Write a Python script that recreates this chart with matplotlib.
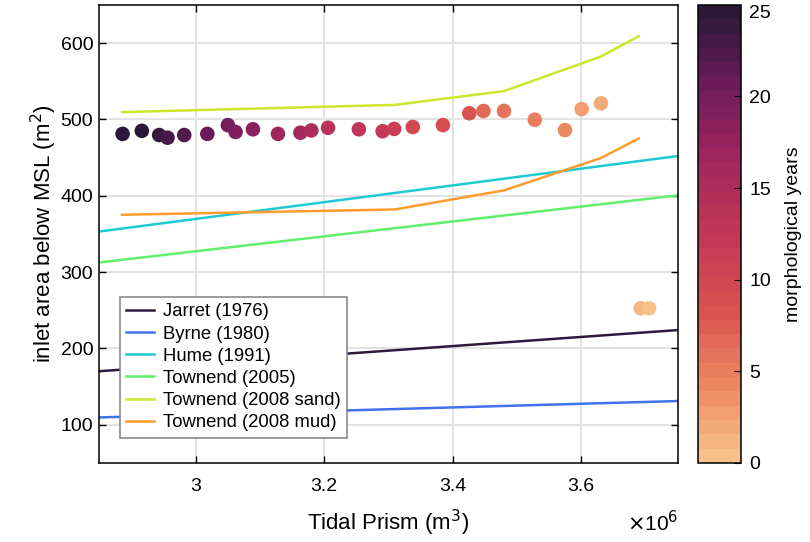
import numpy as np
import matplotlib
matplotlib.use("Agg")
import matplotlib.pyplot as plt
from matplotlib.colors import LinearSegmentedColormap, Normalize

plt.rcParams['font.family'] = ['Liberation Sans', 'DejaVu Sans']

# Empirical relations (tidal prism in 1e6 m3, area in m2)
jarret_x = [2.849, 3.751]
jarret_y = [170, 224]
byrne_x = [2.849, 3.751]
byrne_y = [109.5, 131]
hume_x = [2.849, 3.751]
hume_y = [353, 452]
townend05_x = [2.849, 3.751]
townend05_y = [312.5, 400.5]
sand_x = [2.885, 3.31, 3.48, 3.63, 3.69]
sand_y = [509.5, 519, 537, 582, 609]
mud_x = [2.885, 3.31, 3.48, 3.63, 3.69]
mud_y = [375, 382, 407, 449, 475]

# Model results
prism = [2.886, 2.916, 2.943, 2.956, 2.982, 3.018, 3.050, 3.062, 3.089,
         3.128, 3.163, 3.180, 3.206, 3.254, 3.291, 3.309, 3.338, 3.385,
         3.426, 3.448, 3.480, 3.528, 3.575, 3.601, 3.631, 3.693, 3.706]
area = [481, 485, 479.5, 476, 479.5, 481, 492.5, 483.5, 487, 481, 482.5,
        485.5, 489, 487, 484.5, 487.5, 490, 492.5, 508, 511, 511, 499.5,
        486, 513.5, 521, 252.5, 252.5]
years = [26, 25, 24, 23, 22, 21, 20, 19, 18, 17, 16, 15, 14, 13, 12, 11,
         10, 9, 8, 7, 6, 5, 4, 3, 2, 1, 0]

line_names = ["Jarret (1976)", "Byrne (1980)", "Hume (1991)",
              "Townend (2005)", "Townend (2008 sand)", "Townend (2008 mud)"]
line_colors = ["#2e1a40", "#3f72ea", "#1dcad2", "#5ff06c", "#cde52a", "#fd9b2e"]

cmap = LinearSegmentedColormap.from_list(
    "morph", ["#f7c189", "#ec8660", "#d94f4f", "#c23857", "#a2265d",
              "#6d1b5d", "#2b1838"], N=32)

fig = plt.figure(figsize=(8.1, 5.42), dpi=100)
ax = fig.add_axes([0.122, 0.146, 0.715, 0.845])
cax = fig.add_axes([0.862, 0.146, 0.053, 0.845])

xs = [jarret_x, byrne_x, hume_x, townend05_x, sand_x, mud_x]
ys = [jarret_y, byrne_y, hume_y, townend05_y, sand_y, mud_y]
for x, y, name, col in zip(xs, ys, line_names, line_colors):
    ax.plot(np.array(x) * 1e6, y, color=col, lw=1.8, label=name)

norm = Normalize(0, 25)
sc = ax.scatter(np.array(prism) * 1e6, area, c=years, cmap=cmap, norm=norm,
                s=110, edgecolors='none', zorder=3)

ax.set_xlim(2.849e6, 3.751e6)
ax.set_ylim(50, 650)
ax.set_xticks([3.0e6, 3.2e6, 3.4e6, 3.6e6])
ax.set_xticklabels(["3", "3.2", "3.4", "3.6"])
ax.set_yticks([100, 200, 300, 400, 500, 600])
ax.grid(True, color="#e0e0e0", lw=1.3)
ax.set_axisbelow(True)
ax.tick_params(direction='in', top=True, right=True, length=5, width=1,
               labelsize=14)
ax.tick_params(axis='x', pad=11)
ax.tick_params(axis='y', pad=4)
for sp in ax.spines.values():
    sp.set_linewidth(1.1)

ax.set_xlabel("Tidal Prism (m$^3$)", fontsize=16, labelpad=9)
ax.set_ylabel("inlet area below MSL (m$^2$)", fontsize=16, labelpad=1)
ax.text(1.0, -0.13, r"$\times$10$^6$", transform=ax.transAxes,
        ha='right', va='center', fontsize=15)

leg = ax.legend(loc='lower left', bbox_to_anchor=(0.036, 0.055),
                borderaxespad=0, fontsize=13.3, fancybox=False, framealpha=1,
                edgecolor='#808080', handlelength=1.5, borderpad=0.35,
                labelspacing=0.28, handletextpad=0.5)
leg.get_frame().set_linewidth(1.1)

cb = fig.colorbar(sc, cax=cax)
cb.set_ticks([0, 5, 10, 15, 20, 25])
cb.ax.tick_params(direction='in', length=5, labelsize=14, pad=6)
cb.ax.get_yticklabels()[-1].set_va('top')
cb.outline.set_linewidth(1.1)
cb.set_label("morphological years", fontsize=14, labelpad=10)

fig.savefig("out.png", dpi=100)
